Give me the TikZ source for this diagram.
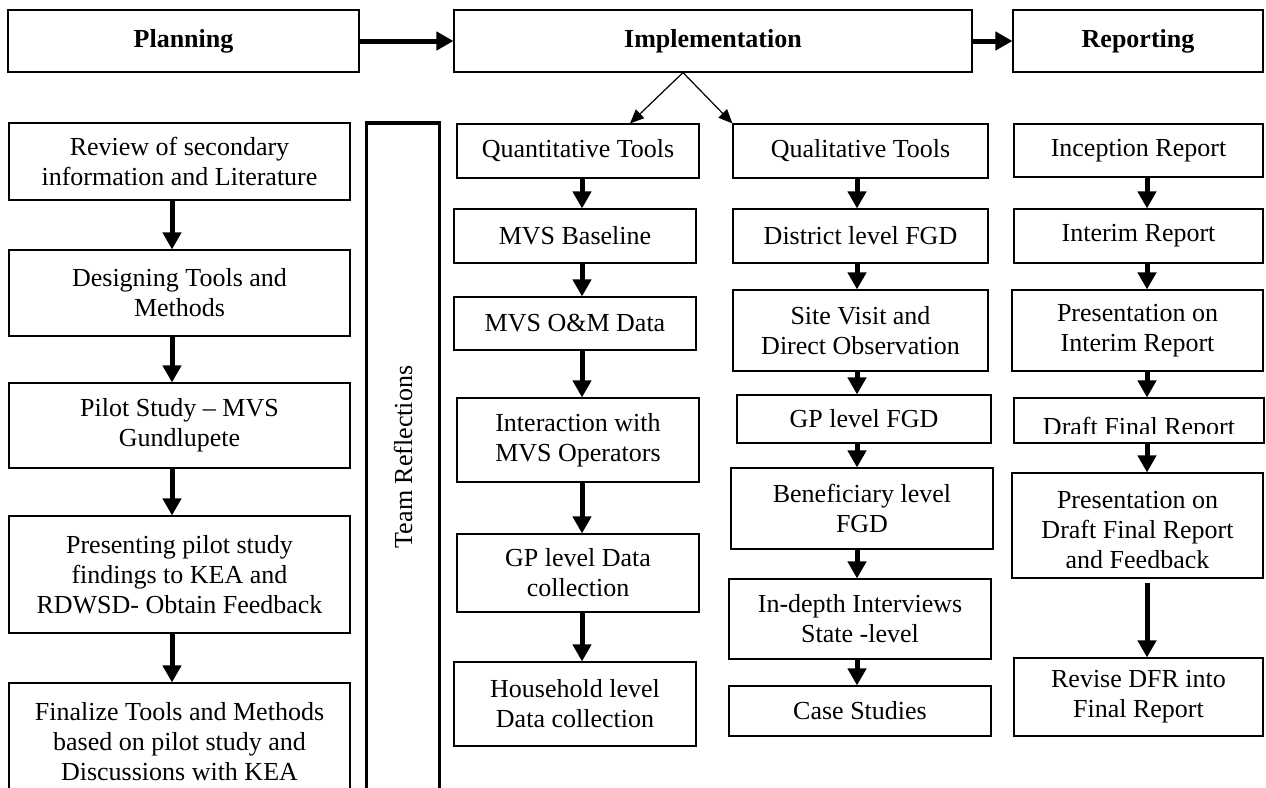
\documentclass[tikz,border=0pt]{standalone}
\usepackage{fontspec}
\setmainfont{Liberation Serif}
\usepackage{tikz}
\usetikzlibrary{arrows.meta}

\tikzset{
	boxtext/.style={align=center,inner sep=0pt,font=\fontsize{26}{30}\selectfont},
	box/.style 2 args={boxtext,draw,line width=1.1pt,minimum width=#1,minimum height=#2},
	phase/.style 2 args={box={#1}{#2},font=\fontsize{26}{30}\selectfont\bfseries},
	flow/.style={line width=5pt,-{Triangle[length=17pt,width=18pt]}},
	fork/.style={line width=1.2pt,-{Triangle[length=14pt,width=12pt]}}
}

\begin{document}
\begin{tikzpicture}[x=1pt,y=-1pt]
		\useasboundingbox (0,0) rectangle (1266,787);
		\clip (0,0) rectangle (1266,787);
%		\draw[help lines,step=50] (0,0) grid (1266,787);
		\path (172,0) coordinate (plancol);
		\path (582,0) coordinate (quantcol);
		\path (857,0) coordinate (qualcol);
		\path (1147,0) coordinate (repcol);

		\node[phase={351}{62}] (planning) at (183.5,41) {Planning};
		\node[phase={518}{62}] (implementation) at (713,41) {Implementation};
		\node[phase={250}{62}] (reporting) at (1138,41) {Reporting};
		\draw[flow] (planning) -- (implementation);
		\draw[flow] (implementation) -- (reporting);

		% planning
		\node[box={341}{77}] (review) at (179.5,161.5) {Review of secondary\\information and Literature};
		\node[box={341}{86}] (design) at (179.5,293) {Designing Tools and\\Methods};
		\node[box={341}{85}] (pilot) at (179.5,425.5) {Pilot Study – MVS\\Gundlupete};
		\node[box={341}{117}] (present) at (179.5,574.5) {Presenting pilot study\\findings to KEA and\\RDWSD- Obtain Feedback};
		\node[box={341}{118}] (finalize) at (179.5,742) {Finalize Tools and Methods\\based on pilot study and\\Discussions with KEA};
		\node[boxtext,draw,line width=3.5pt,rotate=90,minimum width=668,minimum height=73] (team) at (403,457) {Team Reflections};
		\draw[flow] (review.south -| plancol) -- (design.north -| plancol);
		\draw[flow] (design.south -| plancol) -- (pilot.north -| plancol);
		\draw[flow] (pilot.south -| plancol) -- (present.north -| plancol);
		\draw[flow] (present.south -| plancol) -- (finalize.north -| plancol);

		% implementation
		\node[box={242}{54}] (quanttools) at (578,151) {Quantitative Tools};
		\node[box={242}{54}] (baseline) at (575,236) {MVS Baseline};
		\node[box={242}{53}] (omdata) at (575,323.5) {MVS O\&M Data};
		\node[box={242}{84}] (operators) at (578,440) {Interaction with\\MVS Operators};
		\node[box={242}{78}] (gpdata) at (578,573) {GP level Data\\collection};
		\node[box={242}{84}] (household) at (575,704) {Household level\\Data collection};
		\draw[flow] (quanttools.south -| quantcol) -- (baseline.north -| quantcol);
		\draw[flow] (baseline.south -| quantcol) -- (omdata.north -| quantcol);
		\draw[flow] (omdata.south -| quantcol) -- (operators.north -| quantcol);
		\draw[flow] (operators.south -| quantcol) -- (gpdata.north -| quantcol);
		\draw[flow] (gpdata.south -| quantcol) -- (household.north -| quantcol);

		\node[box={255}{54}] (qualtools) at (860.5,151) {Qualitative Tools};
		\node[box={255}{54}] (districtfgd) at (860.5,236) {District level FGD};
		\node[box={255}{81}] (sitevisit) at (860.5,330.5) {Site Visit and\\Direct Observation};
		\node[box={254}{48}] (gpfgd) at (864,419) {GP level FGD};
		\node[box={262}{81}] (benfgd) at (862,508.5) {Beneficiary level\\FGD};
		\node[box={262}{80}] (interviews) at (860,619) {In-depth Interviews\\State -level};
		\node[box={262}{50}] (casestudies) at (860,711) {Case Studies};
		\draw[flow] (qualtools.south -| qualcol) -- (districtfgd.north -| qualcol);
		\draw[flow] (districtfgd.south -| qualcol) -- (sitevisit.north -| qualcol);
		\draw[flow] (sitevisit.south -| qualcol) -- (gpfgd.north -| qualcol);
		\draw[flow] (gpfgd.south -| qualcol) -- (benfgd.north -| qualcol);
		\draw[flow] (benfgd.south -| qualcol) -- (interviews.north -| qualcol);
		\draw[flow] (interviews.south -| qualcol) -- (casestudies.north -| qualcol);

		\draw[fork] ([xshift=-30pt]implementation.south) -- ([xshift=52pt]quanttools.north);
		\draw[fork] ([xshift=-30pt]implementation.south) -- (qualtools.north west);

		% reporting
		\node[box={249}{53}] (inception) at (1138.5,150.5) {Inception Report};
		\node[box={249}{54}] (interim) at (1138.5,236) {Interim Report};
		\node[box={251}{81}] (presinterim) at (1137.5,330.5) {Presentation on\\Interim Report};
		\node[box={250}{45}] (dfr) at (1139,420.5) {};
		\node[box={251}{105}] (presdfr) at (1137.5,525.5) {};
		\node[box={249}{78}] (revise) at (1138.5,697) {Revise DFR into\\Final Report};
		\begin{scope}
			\clip (1014,398) rectangle (1264,433);
			\node[boxtext,anchor=base] (dfrtext) at (1139,435) {Draft Final Report};
		\end{scope}
		\begin{scope}
			\clip (1012,473) rectangle (1263,567);
			\node[boxtext] (presdfrtext) at (1137.5,530) {Presentation on\\Draft Final Report\\and Feedback};
		\end{scope}
		\draw[flow] (inception.south -| repcol) -- (interim.north -| repcol);
		\draw[flow] (interim.south -| repcol) -- (presinterim.north -| repcol);
		\draw[flow] (presinterim.south -| repcol) -- (dfr.north -| repcol);
		\draw[flow] (dfr.south -| repcol) -- (presdfr.north -| repcol);
		\draw[flow] ([yshift=-4pt]presdfr.south -| repcol) -- (revise.north -| repcol);
	\end{tikzpicture}
\end{document}
